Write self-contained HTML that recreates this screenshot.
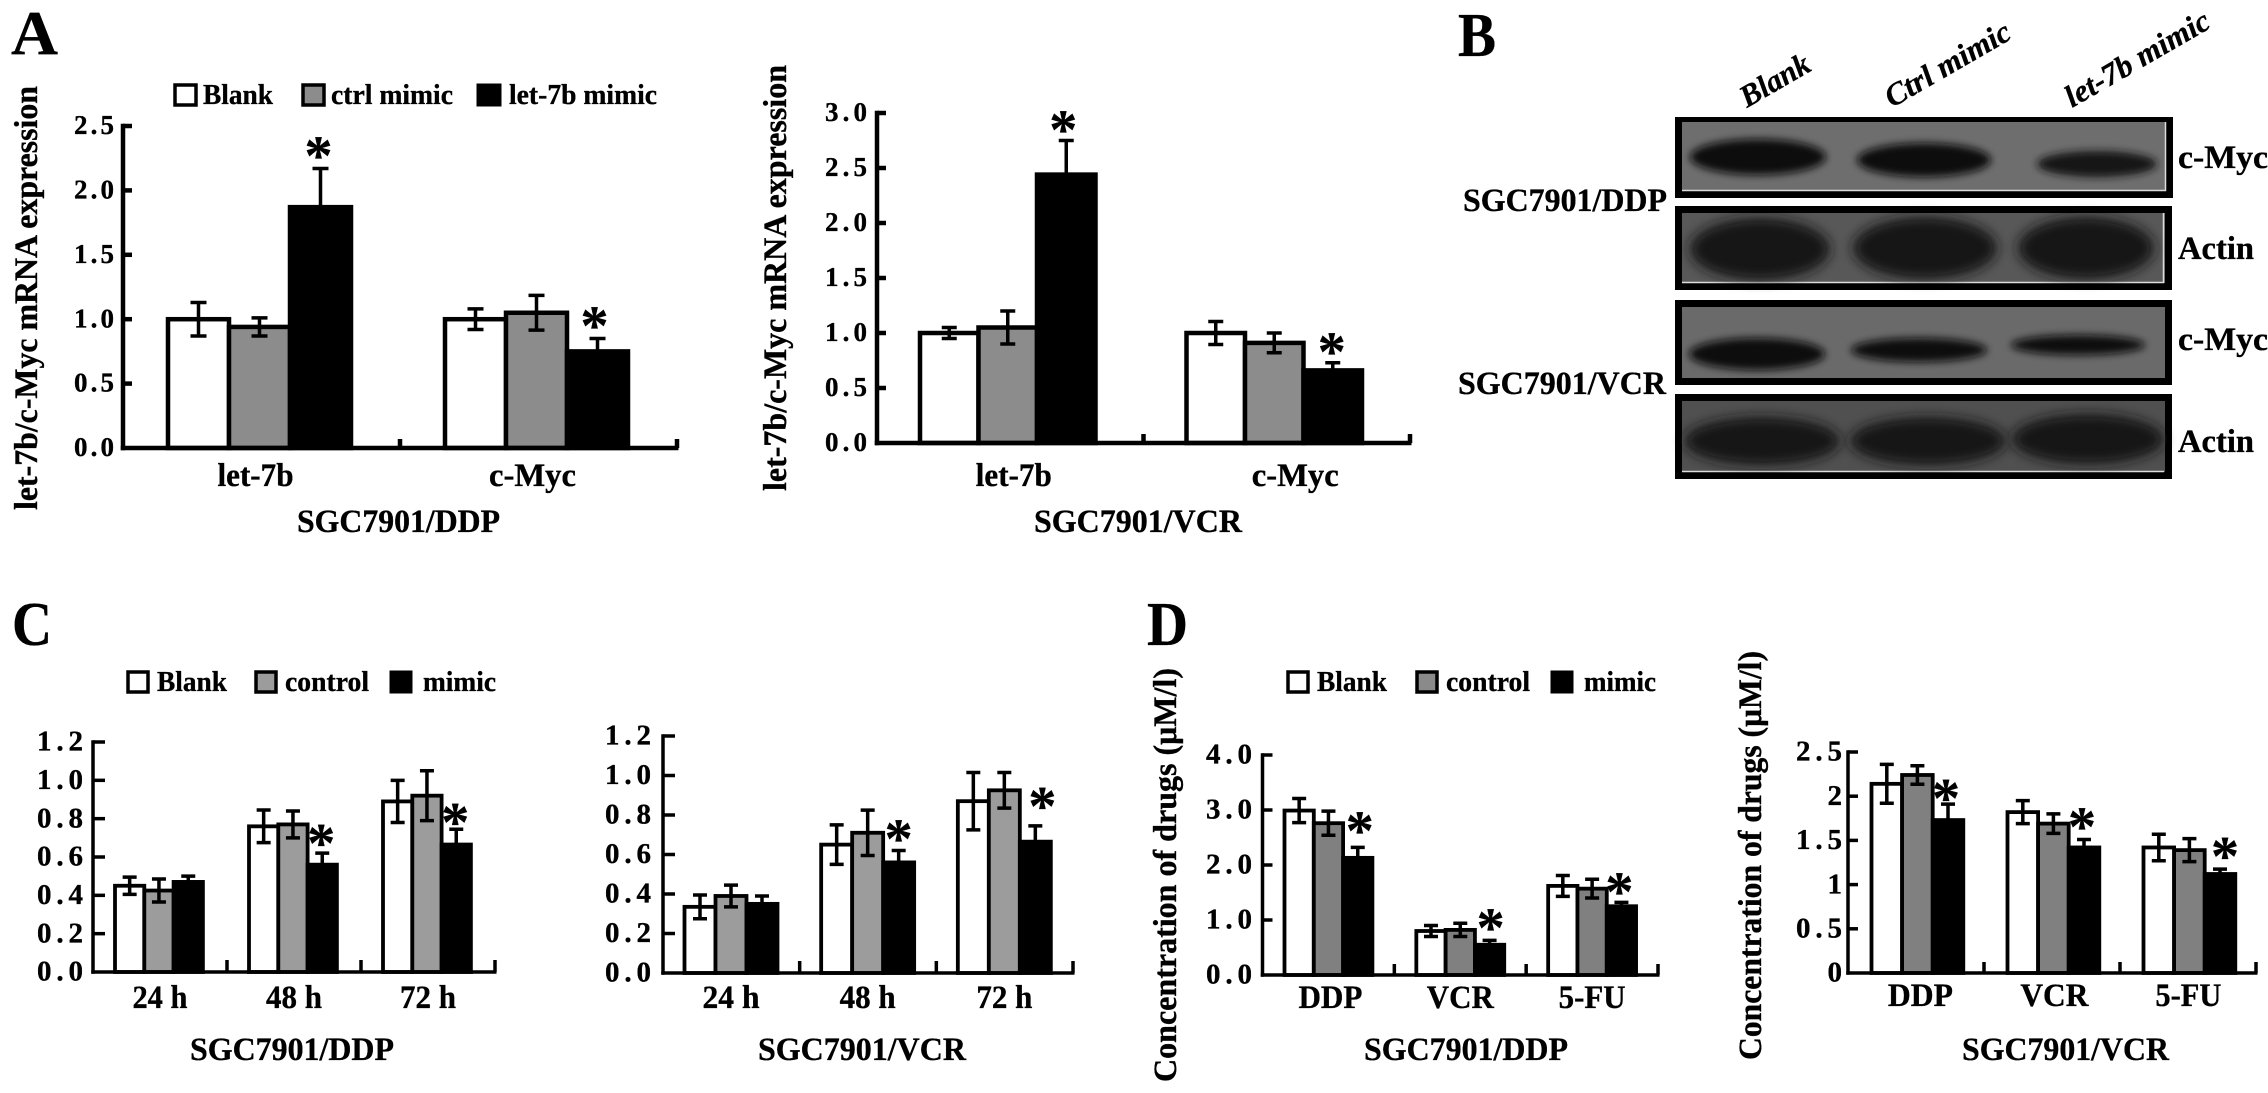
<!DOCTYPE html>
<html>
<head>
<meta charset="utf-8">
<title>let-7b mimic figure</title>
<style>
html,body{margin:0;padding:0;background:#fff;width:2268px;height:1093px;overflow:hidden}
svg{display:block}
text{font-family:"Liberation Serif","Noto Serif CJK SC",serif;font-weight:bold;fill:#000;stroke:#000;stroke-width:.35px}
.lg{font-size:29px}
.ax{font-size:33px}
.let{font-size:62px}
.it{font-size:31px;font-style:italic}
</style>
</head>
<body>
<svg id="fig" xmlns="http://www.w3.org/2000/svg" width="2268" height="1093" viewBox="0 0 2268 1093">
<defs>
<filter id="b3" x="-30%" y="-80%" width="160%" height="260%"><feGaussianBlur stdDeviation="4"/></filter>
<filter id="b6" x="-30%" y="-80%" width="160%" height="260%"><feGaussianBlur stdDeviation="6"/></filter>
</defs>
<rect width="2268" height="1093" fill="#fff"/>

<text class="let" x="11" y="54" textLength="47" lengthAdjust="spacingAndGlyphs">A</text>
<text class="let" x="1458" y="56" textLength="38" lengthAdjust="spacingAndGlyphs">B</text>
<text class="let" x="12" y="645" textLength="40" lengthAdjust="spacingAndGlyphs">C</text>
<text class="let" x="1147" y="645" textLength="41" lengthAdjust="spacingAndGlyphs">D</text>

<!-- Panel A legend -->
<g>
<rect x="175" y="85" width="21" height="20" fill="#fff" stroke="#000" stroke-width="3.5"/>
<text class="lg" x="203" y="104" textLength="70" lengthAdjust="spacingAndGlyphs">Blank</text>
<rect x="303" y="85" width="21" height="20" fill="#8c8c8c" stroke="#000" stroke-width="3.5"/>
<text class="lg" x="331" y="104" textLength="122" lengthAdjust="spacingAndGlyphs">ctrl mimic</text>
<rect x="478" y="85" width="22" height="20" fill="#000" stroke="#000" stroke-width="3"/>
<text class="lg" x="509" y="104" textLength="148" lengthAdjust="spacingAndGlyphs">let-7b mimic</text>
</g>

<!-- Panel C legend -->
<g>
<rect x="128" y="672" width="20" height="20" fill="#fff" stroke="#000" stroke-width="3.5"/>
<text class="lg" x="157" y="691" textLength="70" lengthAdjust="spacingAndGlyphs">Blank</text>
<rect x="256" y="672" width="20" height="20" fill="#9c9c9c" stroke="#000" stroke-width="3.5"/>
<text class="lg" x="285" y="691" textLength="84" lengthAdjust="spacingAndGlyphs">control</text>
<rect x="391" y="672" width="20" height="20" fill="#000" stroke="#000" stroke-width="3"/>
<text class="lg" x="423" y="691" textLength="73" lengthAdjust="spacingAndGlyphs">mimic</text>
</g>

<!-- Panel D legend -->
<g>
<rect x="1288" y="672" width="20" height="20" fill="#fff" stroke="#000" stroke-width="3.5"/>
<text class="lg" x="1317" y="691" textLength="70" lengthAdjust="spacingAndGlyphs">Blank</text>
<rect x="1417" y="672" width="20" height="20" fill="#8a8a8a" stroke="#000" stroke-width="3.5"/>
<text class="lg" x="1446" y="691" textLength="84" lengthAdjust="spacingAndGlyphs">control</text>
<rect x="1552" y="672" width="20" height="20" fill="#000" stroke="#000" stroke-width="3"/>
<text class="lg" x="1584" y="691" textLength="72" lengthAdjust="spacingAndGlyphs">mimic</text>
</g>

<!-- Axis titles -->
<text class="ax" transform="translate(37,510) rotate(-90)" textLength="424" lengthAdjust="spacingAndGlyphs">let-7b/c-Myc mRNA expression</text>
<text class="ax" x="297" y="532" textLength="203" lengthAdjust="spacingAndGlyphs">SGC7901/DDP</text>
<text class="ax" transform="translate(786,491) rotate(-90)" textLength="426" lengthAdjust="spacingAndGlyphs">let-7b/c-Myc mRNA expression</text>
<text class="ax" x="1034" y="532" textLength="208" lengthAdjust="spacingAndGlyphs">SGC7901/VCR</text>
<text class="ax" x="190" y="1060" textLength="204" lengthAdjust="spacingAndGlyphs">SGC7901/DDP</text>
<text class="ax" x="758" y="1060" textLength="208" lengthAdjust="spacingAndGlyphs">SGC7901/VCR</text>
<text class="ax" transform="translate(1176,1082) rotate(-90)" textLength="414" lengthAdjust="spacingAndGlyphs">Concentration of drugs (μM/l)</text>
<text class="ax" x="1364" y="1060" textLength="204" lengthAdjust="spacingAndGlyphs">SGC7901/DDP</text>
<text class="ax" transform="translate(1761,1060) rotate(-90)" textLength="409" lengthAdjust="spacingAndGlyphs">Concentration of drugs (μM/l)</text>
<text class="ax" x="1962" y="1060" textLength="207" lengthAdjust="spacingAndGlyphs">SGC7901/VCR</text>

<!-- Panel B western blots -->
<g>
<text class="it" transform="translate(1747,108) rotate(-30)" textLength="76" lengthAdjust="spacingAndGlyphs">Blank</text>
<text class="it" transform="translate(1892,108) rotate(-30)" textLength="140" lengthAdjust="spacingAndGlyphs">Ctrl mimic</text>
<text class="it" transform="translate(2072,108) rotate(-30)" textLength="162" lengthAdjust="spacingAndGlyphs">let-7b mimic</text>

<g>
<rect x="1675" y="117" width="498" height="81" fill="#000"/>
<rect x="1682" y="122" width="484" height="69" fill="#6e6e6e"/>
<path d="M1682 190.5H2165.5V122" fill="none" stroke="#ddd" stroke-width="1.5"/>
<ellipse cx="1758" cy="157" rx="68" ry="18" fill="#101010" filter="url(#b3)"/>
<ellipse cx="1924" cy="160" rx="67" ry="17" fill="#101010" filter="url(#b3)"/>
<ellipse cx="2097" cy="164" rx="60" ry="13" fill="#151515" filter="url(#b3)"/>
</g>
<g>
<rect x="1675" y="206" width="497" height="84" fill="#000"/>
<rect x="1682" y="213" width="483" height="70" fill="#585858"/>
<path d="M1682 282.5H2163.5V213" fill="none" stroke="#ddd" stroke-width="1.5"/>
<ellipse cx="1760" cy="249" rx="70" ry="31" fill="#141414" filter="url(#b6)"/>
<ellipse cx="1925" cy="248" rx="72" ry="31" fill="#141414" filter="url(#b6)"/>
<ellipse cx="2086" cy="248" rx="68" ry="31" fill="#141414" filter="url(#b6)"/>
</g>
<g>
<rect x="1675" y="300" width="497" height="85" fill="#000"/>
<rect x="1682" y="307" width="483" height="71" fill="#6a6a6a"/>
<ellipse cx="1757" cy="354" rx="68" ry="16" fill="#101010" filter="url(#b3)"/>
<ellipse cx="1919" cy="350" rx="68" ry="12" fill="#101010" filter="url(#b3)"/>
<ellipse cx="2078" cy="345" rx="67" ry="10" fill="#101010" filter="url(#b3)"/>
</g>
<g>
<rect x="1675" y="394" width="497" height="85" fill="#000"/>
<rect x="1682" y="401" width="483" height="71" fill="#505050"/>
<path d="M1682 471.5H2164" fill="none" stroke="#ddd" stroke-width="1.5"/>
<ellipse cx="1762" cy="441" rx="78" ry="24" fill="#161616" filter="url(#b6)"/>
<ellipse cx="1928" cy="441" rx="78" ry="24" fill="#161616" filter="url(#b6)"/>
<ellipse cx="2088" cy="439" rx="76" ry="25" fill="#161616" filter="url(#b6)"/>
</g>

<text class="ax" x="1463" y="211" textLength="204" lengthAdjust="spacingAndGlyphs">SGC7901/DDP</text>
<text class="ax" x="1458" y="394" textLength="208" lengthAdjust="spacingAndGlyphs">SGC7901/VCR</text>
<text class="ax" x="2178" y="168" textLength="90" lengthAdjust="spacingAndGlyphs">c-Myc</text>
<text class="ax" x="2178" y="259" textLength="76" lengthAdjust="spacingAndGlyphs">Actin</text>
<text class="ax" x="2178" y="350" textLength="90" lengthAdjust="spacingAndGlyphs">c-Myc</text>
<text class="ax" x="2178" y="452" textLength="76" lengthAdjust="spacingAndGlyphs">Actin</text>
</g>

<g id="charts"></g>
</svg>

<script>
// ---- Panel A, SGC7901/DDP ----
const a1Categories = ['let-7b', 'c-Myc'];
const a1YTicks = ['0.0', '0.5', '1.0', '1.5', '2.0', '2.5'];
const a1Blank = [1.00, 1.00];
const a1Control = [0.94, 1.05];
const a1Mimic = [1.87, 0.75];
const a1BlankErr = [0.13, 0.08];
const a1ControlErr = [0.07, 0.135];
const a1MimicErr = [0.30, 0.10];
const a1Stars = [1, 1];

// ---- Panel A, SGC7901/VCR ----
const a2Categories = ['let-7b', 'c-Myc'];
const a2YTicks = ['0.0', '0.5', '1.0', '1.5', '2.0', '2.5', '3.0'];
const a2Blank = [1.00, 1.00];
const a2Control = [1.05, 0.91];
const a2Mimic = [2.44, 0.66];
const a2BlankErr = [0.05, 0.105];
const a2ControlErr = [0.15, 0.09];
const a2MimicErr = [0.31, 0.07];
const a2Stars = [1, 1];

// ---- Panel C, SGC7901/DDP ----
const c1Categories = ['24 h', '48 h', '72 h'];
const c1YTicks = ['0.0', '0.2', '0.4', '0.6', '0.8', '1.0', '1.2'];
const c1Blank = [0.45, 0.76, 0.89];
const c1Control = [0.425, 0.77, 0.92];
const c1Mimic = [0.47, 0.56, 0.665];
const c1BlankErr = [0.045, 0.085, 0.11];
const c1ControlErr = [0.06, 0.07, 0.13];
const c1MimicErr = [0.03, 0.06, 0.08];
const c1Stars = [0, 1, 1];

// ---- Panel C, SGC7901/VCR ----
const c2Categories = ['24 h', '48 h', '72 h'];
const c2YTicks = ['0.0', '0.2', '0.4', '0.6', '0.8', '1.0', '1.2'];
const c2Blank = [0.335, 0.65, 0.87];
const c2Control = [0.39, 0.71, 0.925];
const c2Mimic = [0.35, 0.56, 0.665];
const c2BlankErr = [0.06, 0.10, 0.145];
const c2ControlErr = [0.055, 0.115, 0.09];
const c2MimicErr = [0.04, 0.06, 0.08];
const c2Stars = [0, 1, 1];

// ---- Panel D, SGC7901/DDP ----
const d1Categories = ['DDP', 'VCR', '5-FU'];
const d1YTicks = ['0.0', '1.0', '2.0', '3.0', '4.0'];
const d1Blank = [2.99, 0.80, 1.62];
const d1Control = [2.76, 0.82, 1.57];
const d1Mimic = [2.13, 0.55, 1.25];
const d1BlankErr = [0.22, 0.10, 0.19];
const d1ControlErr = [0.22, 0.12, 0.17];
const d1MimicErr = [0.19, 0.08, 0.07];
const d1Stars = [1, 1, 1];

// ---- Panel D, SGC7901/VCR ----
const d2Categories = ['DDP', 'VCR', '5-FU'];
const d2YTicks = ['0', '0.5', '1', '1.5', '2', '2.5'];
const d2Blank = [2.14, 1.82, 1.42];
const d2Control = [2.24, 1.69, 1.39];
const d2Mimic = [1.73, 1.42, 1.12];
const d2BlankErr = [0.22, 0.13, 0.15];
const d2ControlErr = [0.105, 0.11, 0.13];
const d2MimicErr = [0.18, 0.09, 0.055];
const d2Stars = [1, 1, 1];

// ---- Chart layout (geometry only) ----
const charts = [
  {id:'a-ddp', cats:a1Categories, ticks:a1YTicks, series:[a1Blank,a1Control,a1Mimic], errs:[a1BlankErr,a1ControlErr,a1MimicErr], stars:a1Stars,
   left:123, right:677, bottom:448, top:126, pad:45, barW:61, gray:'#8c8c8c', axisW:4.5, barStroke:4.5, capW:16, errW:3.5, tickLen:9, xTickLen:9,
   labelEnd:114, tickFont:27, tickW:40, catY:486, catW:[76,87], catDx:[-4,-4], starGap:[20,20], starDx:[-2,-3]},
  {id:'a-vcr', cats:a2Categories, ticks:a2YTicks, series:[a2Blank,a2Control,a2Mimic], errs:[a2BlankErr,a2ControlErr,a2MimicErr], stars:a2Stars,
   left:877, right:1410, bottom:443, top:113, pad:43, barW:58.5, gray:'#8c8c8c', axisW:4.5, barStroke:4.5, capW:15, errW:3.5, tickLen:9, xTickLen:9,
   labelEnd:867, tickFont:27, tickW:42, catY:486, catW:[76,87], catDx:[6,21], starGap:[18,18], starDx:[-3,-1]},
  {id:'c-ddp', cats:c1Categories, ticks:c1YTicks, series:[c1Blank,c1Control,c1Mimic], errs:[c1BlankErr,c1ControlErr,c1MimicErr], stars:c1Stars,
   left:93, right:495, bottom:972, top:742, pad:22, barW:29.3, gray:'#9c9c9c', axisW:3.5, barStroke:3.8, capW:14, errW:3.5, tickLen:12, xTickLen:12,
   labelEnd:83, tickFont:29, tickW:46, catY:1008, catW:[55,56,56], catDx:[1,1,1], starGap:[17,17,14], starDx:[-1,-1,-1]},
  {id:'c-vcr', cats:c2Categories, ticks:c2YTicks, series:[c2Blank,c2Control,c2Mimic], errs:[c2BlankErr,c2ControlErr,c2MimicErr], stars:c2Stars,
   left:663, right:1073, bottom:973, top:736, pad:21.5, barW:31, gray:'#9c9c9c', axisW:3.5, barStroke:3.8, capW:14, errW:3.5, tickLen:12, xTickLen:12,
   labelEnd:651, tickFont:29, tickW:46, catY:1008, catW:[57,56,56], catDx:[0,0,0], starGap:[19,19,27], starDx:[0,0,7]},
  {id:'d-ddp', cats:d1Categories, ticks:d1YTicks, series:[d1Blank,d1Control,d1Mimic], errs:[d1BlankErr,d1ControlErr,d1MimicErr], stars:d1Stars,
   left:1262.5, right:1658, bottom:975, top:755, pad:22, barW:29.3, gray:'#808080', axisW:3.5, barStroke:3.8, capW:14, errW:3.5, tickLen:10, xTickLen:11,
   labelEnd:1252, tickFont:29, tickW:46, catY:1008, catW:[64,67,67], catDx:[2,0,0], starGap:[24,20,18], starDx:[2,1,-2]},
  {id:'d-vcr', cats:d2Categories, ticks:d2YTicks, series:[d2Blank,d2Control,d2Mimic], errs:[d2BlankErr,d2ControlErr,d2MimicErr], stars:d2Stars,
   left:1848, right:2256, bottom:973, top:752, pad:23.5, barW:30.6, gray:'#808080', axisW:3.5, barStroke:3.8, capW:14, errW:3.5, tickLen:10, xTickLen:11,
   labelEnd:1842, tickFont:29, tickW:46, catY:1006, catW:[65,68,66], catDx:[3,1,-1], starGap:[13,20,20], starDx:[-2,-2,5]}
];

const SVGNS = 'http://www.w3.org/2000/svg';
const root = document.getElementById('charts');
const seriesNames = ['blank', 'control', 'mimic'];

function make(tag, parent, attrs) {
  const el = document.createElementNS(SVGNS, tag);
  for (const k in attrs) el.setAttribute(k, attrs[k]);
  parent.appendChild(el);
  return el;
}

function drawChart(c) {
  const yMax = Number(c.ticks[c.ticks.length - 1]);
  const bandW = (c.right - c.left) / c.cats.length;
  const yScale = v => c.bottom - (v / yMax) * (c.bottom - c.top);
  const xBar = (g, s) => c.left + g * bandW + c.pad + s * c.barW;

  const g = make('g', root, {});
  
  

  // bars
  c.series.forEach((vals, s) => {
    vals.forEach((v, i) => {
      const fill = s === 0 ? '#fff' : s === 1 ? c.gray : '#000';
      const r = make('rect', g, {x: xBar(i, s), y: yScale(v), width: c.barW, height: c.bottom - yScale(v), fill: fill, stroke: '#000', 'stroke-width': c.barStroke});
      
      
    });
  });

  // error bars
  c.errs.forEach((errs, s) => {
    errs.forEach((e, i) => {
      const v = c.series[s][i];
      const cx = xBar(i, s) + c.barW / 2;
      const lo = yScale(v - e), hi = yScale(v + e);
      const p = make('path', g, {d: 'M' + cx + ' ' + lo + 'V' + hi + 'M' + (cx - c.capW / 2) + ' ' + hi + 'H' + (cx + c.capW / 2) + 'M' + (cx - c.capW / 2) + ' ' + lo + 'H' + (cx + c.capW / 2), fill: 'none', stroke: '#000', 'stroke-width': c.errW});
      
      
    });
  });

  // significance stars
  c.stars.forEach((flag, i) => {
    if (!flag) return;
    const cx = xBar(i, 2) + c.barW / 2 + c.starDx[i];
    const topV = c.series[2][i] + c.errs[2][i];
    const cy = yScale(topV) - c.starGap[i];
    const t = make('text', g, {x: cx, y: cy + 26, 'text-anchor': 'middle', 'font-size': 56});
    t.textContent = '*';
    
    
  });

  // axes
  const ya = make('line', g, {x1: c.left, x2: c.left, y1: c.top - c.axisW / 2, y2: c.bottom + c.axisW / 2, stroke: '#000', 'stroke-width': c.axisW});
  
  
  const xa = make('line', g, {x1: c.left - c.axisW / 2, x2: c.right + 1.5, y1: c.bottom, y2: c.bottom, stroke: '#000', 'stroke-width': c.axisW});
  
  

  // y ticks and labels
  c.ticks.forEach(lbl => {
    const y = yScale(Number(lbl));
    if (Number(lbl) > 0) {
      const tk = make('line', g, {x1: c.left, x2: c.left + c.tickLen, y1: y, y2: y, stroke: '#000', 'stroke-width': c.axisW});
      
      
    }
    const attrs = {x: c.labelEnd, y: y + c.tickFont * 0.3, 'text-anchor': 'end', 'font-size': c.tickFont};
    if (lbl.length > 1) { attrs.textLength = c.tickW; attrs.lengthAdjust = 'spacing'; }
    const t = make('text', g, attrs);
    t.textContent = lbl;
    
    
  });

  // x ticks at band boundaries
  c.cats.forEach((cat, i) => {
    const x = c.left + (i + 1) * bandW;
    const tk = make('line', g, {x1: x, x2: x, y1: c.bottom, y2: c.bottom - c.xTickLen, stroke: '#000', 'stroke-width': c.axisW});
    
    
    const cx = xBar(i, 0) + 1.5 * c.barW + c.catDx[i];
    const t = make('text', g, {x: cx, y: c.catY, 'text-anchor': 'middle', 'font-size': 33, textLength: c.catW[i], lengthAdjust: 'spacingAndGlyphs'});
    t.textContent = cat;
    
    
  });
}

charts.forEach(drawChart);
</script>
</body>
</html>
